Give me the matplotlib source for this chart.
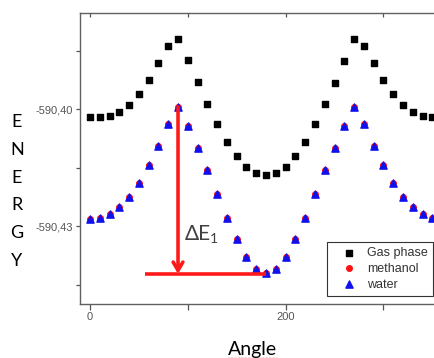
import matplotlib
matplotlib.use("Agg")
import matplotlib.pyplot as plt
from matplotlib.ticker import FixedLocator, FixedFormatter

# data
angle = [0, 10, 20, 30, 40, 50, 60, 70, 80, 90, 100, 110, 120, 130, 140, 150, 160, 170,
         180, 190, 200, 210, 220, 230, 240, 250, 260, 270, 280, 290, 300, 310, 320, 330, 340, 350]
gas_phase = [-590.40205, -590.40205, -590.40179, -590.40077, -590.39897, -590.39615,
             -590.39256, -590.38821, -590.38385, -590.38205, -590.38744, -590.39308,
             -590.39872, -590.40385, -590.40846, -590.41205, -590.41487, -590.41641,
             -590.41692, -590.41641, -590.41487, -590.41205, -590.40846, -590.40385,
             -590.39872, -590.39333, -590.38769, -590.38205, -590.38385, -590.38821,
             -590.39256, -590.39615, -590.39897, -590.40077, -590.40179, -590.40205]
water = [-590.42821, -590.42795, -590.42692, -590.42513, -590.42256, -590.41897,
         -590.41436, -590.40949, -590.40385, -590.39949, -590.40436, -590.41000,
         -590.41564, -590.42179, -590.42795, -590.43333, -590.43795, -590.44103,
         -590.44205, -590.44103, -590.43795, -590.43333, -590.42795, -590.42179,
         -590.41564, -590.41000, -590.40436, -590.39949, -590.40385, -590.40949,
         -590.41436, -590.41897, -590.42256, -590.42513, -590.42692, -590.42795]
# methanol sits right under the water points
methanol = [-590.42821, -590.42795, -590.42692, -590.42513, -590.42256, -590.41897,
            -590.41436, -590.40949, -590.40385, -590.39949, -590.40436, -590.41000,
            -590.41564, -590.42179, -590.42795, -590.43333, -590.43795, -590.44103,
            -590.44205, -590.44103, -590.43795, -590.43333, -590.42795, -590.42179,
            -590.41564, -590.41000, -590.40436, -590.39949, -590.40385, -590.40949,
            -590.41436, -590.41897, -590.42256, -590.42513, -590.42692, -590.42795]

x_ticks = [0, 100, 200, 300]
x_ticklabels = ["0", "", "200", ""]
y_ticks = [-590.445, -590.43, -590.415, -590.40, -590.385]
y_ticklabels = ["", "-590,43", "", "-590,40", ""]

# delta E annotation (angle, energy)
arrow_top = (90, -590.3995)
arrow_bottom = (90, -590.4423)
base_line_x = [56, 180]

W, H = 435, 358


def fx(px):
    return px / W


def fy(py):
    return 1 - py / H


fig = plt.figure(figsize=(W / 100, H / 100), dpi=100)
ax = fig.add_axes([fx(80), fy(304), fx(435) - fx(80), fy(13) - fy(304)])

ax.scatter(angle, methanol, marker="o", s=16, color="#ff1010", label="methanol", zorder=3)
ax.scatter(angle, gas_phase, marker="s", s=16, color="black", label="Gas phase", zorder=3)
ax.scatter(angle, water, marker="^", s=27, color="#1010ee", label="water", zorder=4)

ax.set_xlim(-10.2, 352.7)
ax.set_ylim(-590.45, -590.37538)

ax.xaxis.set_major_locator(FixedLocator(x_ticks))
ax.xaxis.set_major_formatter(FixedFormatter(x_ticklabels))
ax.yaxis.set_major_locator(FixedLocator(y_ticks))
ax.yaxis.set_major_formatter(FixedFormatter(y_ticklabels))
ax.tick_params(direction="out", length=4, width=0.9, color="#555555",
               labelsize=8, labelcolor="#555555", pad=2)
ax.tick_params(axis="y", length=3)
for lab in ax.get_xticklabels() + ax.get_yticklabels():
    lab.set_family("Liberation Sans")

for side in ["left", "bottom", "top"]:
    ax.spines[side].set_color("#606060")
    ax.spines[side].set_linewidth(1.0)
ax.spines["right"].set_visible(False)

top = ax.secondary_xaxis("top")
top.set_xticks(x_ticks)
top.tick_params(direction="in", length=3, width=0.9, color="#555555", labeltop=False)
top.spines["top"].set_visible(False)

# delta E arrow and base line
ax.annotate("", xy=arrow_bottom, xytext=arrow_top,
            arrowprops=dict(arrowstyle="->,head_length=0.6,head_width=0.35",
                            color="#ff1a1a", lw=2.6, shrinkA=0, shrinkB=0),
            zorder=5)
ax.plot(base_line_x, [arrow_bottom[1]] * 2, color="#ff1a1a", lw=2.6, zorder=5,
        solid_capstyle="butt")

fig.text(fx(185), fy(240), "ΔE", fontsize=15, color="#404040",
         family=["Lato", "DejaVu Sans"], ha="left", va="baseline")
fig.text(fx(210), fy(243), "1", fontsize=10, color="#404040",
         family=["Lato", "DejaVu Sans"], ha="left", va="baseline")

# vertical axis title
for i, ch in enumerate("ENERGY"):
    fig.text(fx(17), fy(122 + 27.8 * i), ch, fontsize=13, color="black",
             family=["Lato", "DejaVu Sans"], ha="center", va="center")

fig.text(fx(252), fy(355), "Angle", fontsize=14, color="black",
         family=["Lato", "DejaVu Sans"], ha="center", va="baseline")
fig.add_artist(plt.Line2D([fx(227), fx(277)], [fy(357.5)] * 2, color="#e02020",
                          lw=1.0, linestyle=(0, (1.5, 1))))

handles, labels = ax.get_legend_handles_labels()
order = [1, 0, 2]
leg = ax.legend([handles[i] for i in order], [labels[i] for i in order],
                loc="upper left", bbox_to_anchor=(fx(327), fy(242)),
                bbox_transform=fig.transFigure, frameon=True, fancybox=False,
                framealpha=1, edgecolor="#333333",
                prop={"family": "Liberation Sans", "size": 9},
                handletextpad=0.1, borderpad=0.4, labelspacing=0.3,
                handlelength=2.7, borderaxespad=0)
leg.get_frame().set_linewidth(0.8)
for t in leg.get_texts():
    t.set_color("#333333")

fig.savefig("out.png", dpi=100)
